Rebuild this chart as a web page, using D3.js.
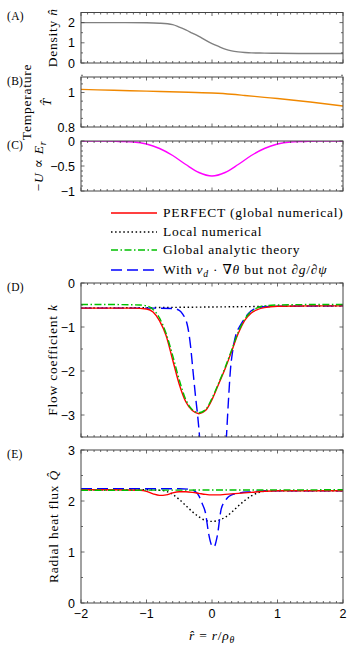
<!DOCTYPE html>
<html>
<head>
<meta charset="utf-8">
<script src="https://cdn.jsdelivr.net/npm/d3@7"></script>
<style>
  body { margin: 0; background: #fff; }
  svg { display: block; }
</style>
</head>
<body>
<svg id="chart" width="353" height="645"></svg>
<script>
// values (r = normalised radius)
const xTicks = [-2, -1, 0, 1, 2];

// (A) density
const densityR = [-2, -1.5, -1, -0.8, -0.6, -0.5, -0.4, -0.3, -0.2, -0.1, 0, 0.1, 0.2, 0.3, 0.4, 0.5, 0.6, 0.8, 1, 1.5, 2];
const densityN = [2.0, 2.0, 1.99, 1.97, 1.9, 1.78, 1.64, 1.48, 1.32, 1.13, 0.96, 0.82, 0.69, 0.6, 0.55, 0.52, 0.5, 0.49, 0.48, 0.47, 0.47];
const densityTicks = [0, 1, 2];

// (B) temperature
const tempR = [-2, -1.5, -1, -0.5, 0, 0.3, 0.5, 0.8, 1, 1.5, 2];
const tempT = [1.018, 1.013, 1.008, 1.003, 0.997, 0.99, 0.983, 0.972, 0.965, 0.945, 0.922];
const tempTicks = [0.8, 1];

// (C) -U ~ E_r
const potR = [-2, -1.6, -1.4, -1.2, -1, -0.8, -0.6, -0.4, -0.2, 0, 0.2, 0.4, 0.6, 0.8, 1, 1.2, 1.4, 1.6, 2];
const potU = [0, 0, -0.01, -0.02, -0.06, -0.15, -0.29, -0.47, -0.63, -0.7, -0.63, -0.47, -0.29, -0.15, -0.06, -0.02, -0.01, 0, 0];
const potTicks = [-1, -0.5, 0];

// (D) flow coefficient k
const flowPerfectR = [-2, -1.5, -1.2, -1, -0.9, -0.8, -0.7, -0.6, -0.5, -0.4, -0.3, -0.2, -0.1, 0, 0.1, 0.2, 0.3, 0.4, 0.5, 0.6, 0.7, 0.8, 1, 1.5, 2];
const flowPerfectK = [-0.57, -0.57, -0.57, -0.59, -0.66, -0.86, -1.2, -1.75, -2.3, -2.7, -2.9, -2.97, -2.9, -2.65, -2.3, -1.95, -1.55, -1.15, -0.85, -0.68, -0.6, -0.56, -0.53, -0.52, -0.52];
const flowLocalR = [-2, -1, 0, 1, 2];
const flowLocalK = [-0.57, -0.56, -0.545, -0.53, -0.52];
const flowAnalyticR = [-2, -1.5, -1.1, -1, -0.9, -0.8, -0.7, -0.6, -0.5, -0.4, -0.3, -0.2, -0.1, 0, 0.1, 0.2, 0.3, 0.4, 0.5, 0.6, 0.7, 0.8, 1, 1.5, 2];
const flowAnalyticK = [-0.49, -0.49, -0.5, -0.52, -0.6, -0.8, -1.15, -1.65, -2.2, -2.65, -2.88, -2.95, -2.88, -2.62, -2.28, -1.92, -1.52, -1.12, -0.82, -0.65, -0.56, -0.52, -0.5, -0.49, -0.49];
const flowDriftR = [-2, -1, -0.6, -0.5, -0.45, -0.37, -0.33, -0.29, -0.25, -0.22, -0.19, -0.15, 0, 0.15, 0.22, 0.25, 0.28, 0.32, 0.37, 0.43, 0.5, 0.6, 0.7, 0.8, 1, 2];
const flowDriftK = [-0.57, -0.57, -0.58, -0.62, -0.7, -1.0, -1.4, -2.0, -2.6, -3.0, -3.5, -4.5, -6, -5, -3.5, -2.7, -2.0, -1.5, -1.15, -0.97, -0.8, -0.63, -0.56, -0.54, -0.53, -0.52];
const flowTicks = [-3, -2, -1, 0];

// (E) radial heat flux Q
const heatPerfectR = [-2, -1.5, -1.1, -1, -0.9, -0.8, -0.7, -0.6, -0.5, -0.4, -0.3, -0.2, -0.1, 0, 0.1, 0.2, 0.4, 0.6, 0.8, 1, 1.5, 2];
const heatPerfectQ = [2.22, 2.22, 2.21, 2.19, 2.14, 2.11, 2.12, 2.16, 2.18, 2.18, 2.17, 2.15, 2.13, 2.12, 2.12, 2.13, 2.15, 2.17, 2.19, 2.2, 2.2, 2.2];
const heatLocalR = [-2, -1, -0.8, -0.7, -0.6, -0.5, -0.4, -0.3, -0.2, -0.1, 0, 0.1, 0.2, 0.3, 0.4, 0.5, 0.6, 0.7, 0.8, 1, 2];
const heatLocalQ = [2.22, 2.22, 2.21, 2.19, 2.13, 2.03, 1.91, 1.79, 1.69, 1.62, 1.6, 1.62, 1.68, 1.78, 1.9, 2.01, 2.1, 2.16, 2.19, 2.2, 2.2];
const heatAnalyticR = [-2, 0, 2];
const heatAnalyticQ = [2.21, 2.215, 2.22];
const heatDriftR = [-2, -1, -0.5, -0.35, -0.25, -0.2, -0.15, -0.1, -0.05, 0, 0.03, 0.08, 0.14, 0.2, 0.24, 0.3, 0.43, 0.6, 0.8, 2];
const heatDriftQ = [2.24, 2.24, 2.24, 2.23, 2.18, 2.1, 1.95, 1.77, 1.35, 1.12, 1.1, 1.31, 1.84, 2.0, 2.07, 2.12, 2.16, 2.18, 2.2, 2.2];
const heatTicks = [0, 1, 2, 3];

const legendLabels = ['PERFECT (global numerical)', 'Local numerical', 'Global analytic theory', 'With v_d · ∇θ but not ∂g/∂ψ'];

// ---------------------------------------------------------------
const svg = d3.select('#chart');
const left = 81, right = 343;
const serif = '"Liberation Serif", "DejaVu Serif", serif';
const sans = '"Liberation Sans", Arial, sans-serif';
const frameColor = '#444';
const serifSpacing = 0.75; // computer modern runs wider than Times

const x = d3.scaleLinear().domain([-2, 2]).range([left, right]);

const styles = {
  perfect: { color: '#ff0000', dash: null },
  local: { color: '#000000', dash: '1.5,2.6' },
  analytic: { color: '#00c000', dash: '7,2.5,1.5,2.5' },
  drift: { color: '#0000ff', dash: '11,5' }
};

const fmt = d => (d < 0 ? '\u2212' + Math.abs(d) : String(d));

// parts: [text, kind]  kind: '' | 'i' | 'sub' | 'isub'
function mathText(sel, parts) {
  let shift = 0;
  parts.forEach(([t, kind]) => {
    const ts = sel.append('tspan').text(t);
    if (kind === 'i' || kind === 'isub') ts.attr('font-style', 'italic');
    if (kind === 'sub' || kind === 'isub') {
      ts.attr('font-size', '0.72em').attr('dy', 3 - shift);
      shift = 3;
    } else if (shift) {
      ts.attr('dy', -shift);
      shift = 0;
    }
  });
}

const panels = [
  { tag: '(A)', top: 12.5, bottom: 63, domain: [0, 2.5], ticks: densityTicks, minor: 0.5,
    series: [{ r: densityR, v: densityN, color: '#808080', dash: null }],
    label: { x: 57, lines: [[['Density ', ''], ['n\u0302', 'i']]] } },
  { tag: '(B)', top: 77, bottom: 127, domain: [0.8, 1.09], ticks: tempTicks, minor: 0.05,
    series: [{ r: tempR, v: tempT, color: '#f08800', dash: null }],
    label: { x: 31, lines: [[['Temperature', '']], [['T\u0302', 'i']]] } },
  { tag: '(C)', top: 141, bottom: 191, domain: [-1, 0], ticks: potTicks, minor: 0.1,
    series: [{ r: potR, v: potU, color: '#ff00ff', dash: null }],
    label: { x: 43, lines: [[['\u2212', ''], ['U', 'i'], [' \u221d ', ''], ['E', 'i'], ['r', 'isub']]] } },
  { tag: '(D)', top: 283, bottom: 437, domain: [-3.5, 0], ticks: flowTicks, minor: 0.5,
    series: [
      { r: flowLocalR, v: flowLocalK, ...styles.local },
      { r: flowDriftR, v: flowDriftK, ...styles.drift },
      { r: flowPerfectR, v: flowPerfectK, ...styles.perfect },
      { r: flowAnalyticR, v: flowAnalyticK, ...styles.analytic }
    ],
    label: { x: 57, lines: [[['Flow coefficient ', ''], ['k', 'i']]] } },
  { tag: '(E)', top: 450, bottom: 603, domain: [0, 3], ticks: heatTicks, minor: 0.5,
    series: [
      { r: heatLocalR, v: heatLocalQ, ...styles.local },
      { r: heatDriftR, v: heatDriftQ, ...styles.drift },
      { r: heatPerfectR, v: heatPerfectQ, ...styles.perfect },
      { r: heatAnalyticR, v: heatAnalyticQ, ...styles.analytic }
    ],
    label: { x: 58, lines: [[['Radial heat flux ', ''], ['Q\u0302', 'i']]] } }
];

panels.forEach((p, i) => {
  const y = d3.scaleLinear().domain(p.domain).range([p.bottom, p.top]);
  const g = svg.append('g');

  const clipId = 'clip' + i;
  svg.append('clipPath').attr('id', clipId)
    .append('rect').attr('x', left).attr('y', p.top).attr('width', right - left).attr('height', p.bottom - p.top);

  // data lines
  const line = d3.line().x(d => x(d[0])).y(d => y(d[1])).curve(d3.curveMonotoneX);
  p.series.forEach(s => {
    g.append('path')
      .datum(s.r.map((r, k) => [r, s.v[k]]))
      .attr('clip-path', `url(#${clipId})`)
      .attr('fill', 'none')
      .attr('stroke', s.color)
      .attr('stroke-width', 1.4)
      .attr('stroke-dasharray', s.dash)
      .attr('d', line);
  });

  // frame
  g.append('rect')
    .attr('x', left).attr('y', p.top)
    .attr('width', right - left).attr('height', p.bottom - p.top)
    .attr('fill', 'none').attr('stroke', frameColor).attr('stroke-width', 1);

  // x ticks, inward, top and bottom
  const xMinor = d3.range(-20, 21).map(k => k / 10);
  xMinor.forEach(v => {
    const len = Number.isInteger(v) ? 3.5 : 2;
    g.append('line').attr('x1', x(v)).attr('x2', x(v)).attr('y1', p.bottom).attr('y2', p.bottom - len)
      .attr('stroke', frameColor).attr('stroke-width', 0.8);
    g.append('line').attr('x1', x(v)).attr('x2', x(v)).attr('y1', p.top).attr('y2', p.top + len)
      .attr('stroke', frameColor).attr('stroke-width', 0.8);
  });

  // y ticks
  const n = Math.round((p.domain[1] - p.domain[0]) / p.minor);
  d3.range(0, n + 1).map(k => p.domain[0] + k * p.minor).forEach(v => {
    const major = p.ticks.some(t => Math.abs(t - v) < 1e-6);
    const len = major ? 3.5 : 2;
    g.append('line').attr('x1', left).attr('x2', left + len).attr('y1', y(v)).attr('y2', y(v))
      .attr('stroke', frameColor).attr('stroke-width', 0.8);
    g.append('line').attr('x1', right).attr('x2', right - len).attr('y1', y(v)).attr('y2', y(v))
      .attr('stroke', frameColor).attr('stroke-width', 0.8);
  });

  // y tick labels
  g.selectAll('text.ytick').data(p.ticks).enter().append('text')
    .attr('class', 'ytick')
    .attr('x', 75).attr('y', d => y(d)).attr('dy', '0.36em')
    .attr('text-anchor', 'end')
    .attr('font-family', sans).attr('font-size', 12.5)
    .text(fmt);

  // panel tag
  g.append('text').attr('x', 7).attr('y', p.top + 7.5)
    .attr('font-family', serif).attr('font-size', 11.5).attr('letter-spacing', 0.3).text(p.tag);

  // y label (rotated)
  const cy = (p.top + p.bottom) / 2;
  p.label.lines.forEach((parts, li) => {
    const t = g.append('text')
      .attr('transform', `translate(${p.label.x + li * 20},${cy}) rotate(-90)`)
      .attr('text-anchor', 'middle')
      .attr('font-family', serif).attr('font-size', 13.5)
      .attr('letter-spacing', serifSpacing);
    mathText(t, parts);
  });

  if (i === panels.length - 1) {
    g.selectAll('text.xtick').data(xTicks).enter().append('text')
      .attr('x', d => x(d)).attr('y', 618)
      .attr('text-anchor', 'middle')
      .attr('font-family', sans).attr('font-size', 12.5)
      .text(fmt);
    const xl = g.append('text').attr('x', x(0)).attr('y', 640)
      .attr('text-anchor', 'middle').attr('font-family', serif).attr('font-size', 13.5)
      .attr('letter-spacing', serifSpacing);
    mathText(xl, [['r\u0302', 'i'], [' = ', ''], ['r', 'i'], ['/', ''], ['\u03c1', 'i'], ['\u03b8', 'isub']]);
  }
});

// legend
const legendY = [213, 232, 250, 270];
const legendStyles = [styles.perfect, styles.local, styles.analytic, styles.drift];
const legendParts = [
  [[legendLabels[0], '']],
  [[legendLabels[1], '']],
  [[legendLabels[2], '']],
  [['With ', ''], ['v', 'i'], ['d', 'isub'], [' \u00b7 \u2207', ''], ['\u03b8', 'i'], [' but not \u2202', ''], ['g', 'i'], ['/\u2202', ''], ['\u03c8', 'i']]
];
const lg = svg.append('g');
legendY.forEach((ly, k) => {
  lg.append('line').attr('x1', 111).attr('x2', 157).attr('y1', ly).attr('y2', ly)
    .attr('stroke', legendStyles[k].color).attr('stroke-width', 1.4)
    .attr('stroke-dasharray', legendStyles[k].dash);
  const t = lg.append('text').attr('x', 163).attr('y', ly).attr('dy', '0.33em')
    .attr('font-family', serif).attr('font-size', 13.5)
    .attr('letter-spacing', serifSpacing);
  mathText(t, legendParts[k]);
});
</script>
</body>
</html>
